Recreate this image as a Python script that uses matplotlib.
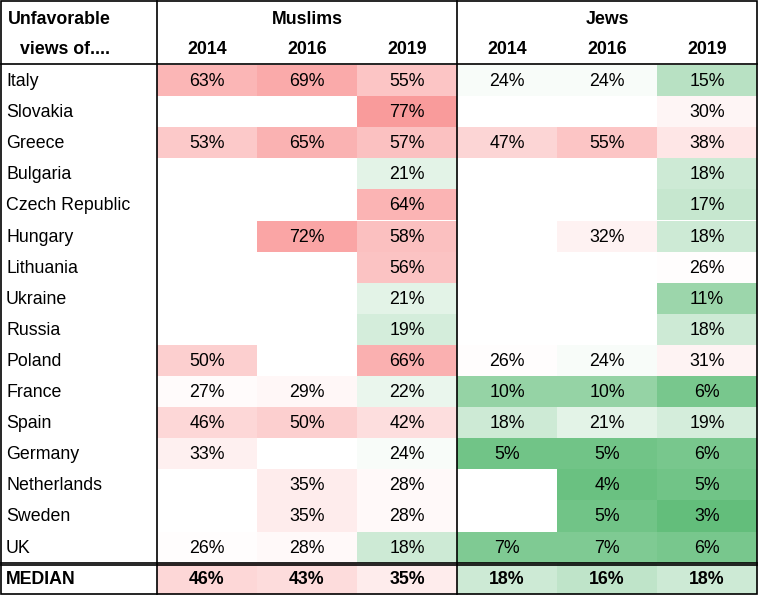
import matplotlib
matplotlib.use("Agg")
import matplotlib.pyplot as plt
from matplotlib.patches import Rectangle
import numpy as np

countries = ["Italy", "Slovakia", "Greece", "Bulgaria", "Czech Republic", "Hungary",
             "Lithuania", "Ukraine", "Russia", "Poland", "France", "Spain", "Germany",
             "Netherlands", "Sweden", "UK"]
years = ["2014", "2016", "2019"]
muslims = [
    [63, 69, 55], [None, None, 77], [53, 65, 57], [None, None, 21], [None, None, 64],
    [None, 72, 58], [None, None, 56], [None, None, 21], [None, None, 19], [50, None, 66],
    [27, 29, 22], [46, 50, 42], [33, None, 24], [None, 35, 28], [None, 35, 28], [26, 28, 18],
]
jews = [
    [24, 24, 15], [None, None, 30], [47, 55, 38], [None, None, 18], [None, None, 17],
    [None, 32, 18], [None, None, 26], [None, None, 11], [None, None, 18], [26, 24, 31],
    [10, 10, 6], [18, 21, 19], [5, 5, 6], [None, 4, 5], [None, 5, 3], [7, 7, 6],
]
median_muslims = [46, 43, 35]
median_jews = [18, 16, 18]

LO, MID, HI = 3, 25, 77
green = np.array([99, 190, 123]) / 255
white = np.array([1.0, 1.0, 1.0])
red = np.array([249, 155, 155]) / 255


def cell_color(v):
    if v is None:
        return "white"
    if v <= MID:
        t = (MID - v) / (MID - LO)
        return tuple(white + (green - white) * t)
    t = (v - MID) / (HI - MID)
    return tuple(white + (red - white) * t)


W, H = 759, 596
fig = plt.figure(figsize=(W / 100, H / 100), dpi=100)
ax = fig.add_axes([0, 0, 1, 1])
ax.set_xlim(0, W)
ax.set_ylim(H, 0)
ax.axis("off")

font = "Liberation Sans"
fs = 12.8
col_x = [157, 257, 357, 457, 557, 657, 757]
top_body = 65
row_h = 31.1
median_top = top_body + row_h * len(countries)
bottom = median_top + row_h

rows = [m + j for m, j in zip(muslims, jews)] + [median_muslims + median_jews]
labels = countries + ["MEDIAN"]
for r, (lab, vals) in enumerate(zip(labels, rows)):
    y0 = top_body + r * row_h
    bold = lab == "MEDIAN"
    for c, v in enumerate(vals):
        ax.add_patch(Rectangle((col_x[c], y0), col_x[c + 1] - col_x[c], row_h,
                               facecolor=cell_color(v), edgecolor="none"))
        if v is not None:
            ax.text((col_x[c] + col_x[c + 1]) / 2, y0 + row_h / 2 + 1, f"{v}%",
                    ha="center", va="center", fontsize=fs, family=font,
                    fontweight="bold" if bold else "normal")
    ax.text(6, y0 + row_h / 2 + 1, lab, ha="left", va="center", fontsize=fs,
            family=font, fontweight="bold" if bold else "normal")

# header
ax.text(8, 19, "Unfavorable", ha="left", va="center", fontsize=fs, family=font, fontweight="bold")
ax.text(20, 49, "views of....", ha="left", va="center", fontsize=fs, family=font, fontweight="bold")
ax.text(307, 19, "Muslims", ha="center", va="center", fontsize=fs, family=font, fontweight="bold")
ax.text(607, 19, "Jews", ha="center", va="center", fontsize=fs, family=font, fontweight="bold")
for c in range(6):
    ax.text((col_x[c] + col_x[c + 1]) / 2, 49, years[c % 3], ha="center", va="center",
            fontsize=fs, family=font, fontweight="bold")

# borders
lw = 1.2
ax.add_patch(Rectangle((1, 1), 756, bottom - 1, fill=False, edgecolor="black", lw=lw))
ax.plot([157, 157], [1, bottom], color="black", lw=lw)
ax.plot([457, 457], [1, bottom], color="black", lw=lw)
ax.plot([1, 757], [top_body - 1, top_body - 1], color="black", lw=lw)
ax.plot([1, 757], [median_top, median_top], color="black", lw=lw)
ax.plot([1, 757], [median_top + 2, median_top + 2], color="black", lw=lw)

fig.savefig("out.png", dpi=100)
